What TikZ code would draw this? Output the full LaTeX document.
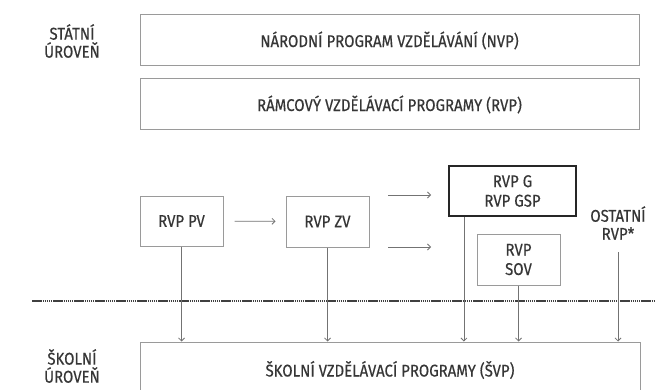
\documentclass[tikz,border=0pt]{standalone}
\usepackage{fontspec}
\setmainfont{Fira Sans}[FakeStretch=0.88,FakeBold=0.4]
\usetikzlibrary{arrows.meta}
\definecolor{txtgray}{HTML}{363636}
\definecolor{boxgray}{HTML}{9A9A9A}
\tikzstyle{lvl}=[align=center,text=txtgray,font=\fontsize{17}{18}\selectfont]
\tikzstyle{prog}=[rectangle,draw=boxgray,line width=1pt,text=txtgray,align=center,font=\fontsize{17}{19.5}\selectfont]
\tikzstyle{down}=[-{Straight Barb[length=3pt,width=6pt]},draw=gray!90!black,line width=0.8pt]
\tikzstyle{dotline}=[draw=black!75,line width=1.3pt,dash pattern=on 1.5pt off 0.6pt]

\begin{document}
\begin{tikzpicture}[x=1pt,y=-1pt]
\clip (0,0) rectangle (655,390);
\fill[white] (0,0) rectangle (655,390);
% statni uroven
\node[lvl] (statni) at (72,41) {STÁTNÍ\\ÚROVEŇ};
\node[prog,minimum width=499pt,minimum height=51pt] (nvp) at (389.5,40.5) {NÁRODNÍ PROGRAM VZDĚLÁVÁNÍ (NVP)};
\node[prog,minimum width=499pt,minimum height=51pt] (rvp) at (389.5,104.5) {RÁMCOVÝ VZDĚLÁVACÍ PROGRAMY (RVP)};
% jednotlive RVP
\node[prog,minimum width=83pt,minimum height=50pt] (pv) at (181.5,221) {RVP PV};
\node[prog,minimum width=83pt,minimum height=51pt] (zv) at (327.5,221.5) {RVP ZV};
\node[prog,draw=black!85,line width=2.2pt,minimum width=127pt,minimum height=50pt] (g) at (512.5,191) {RVP G\\RVP GSP};
\node[prog,minimum width=83pt,minimum height=51pt] (sov) at (518.5,259.5) {RVP\\SOV};
\node[lvl] (ostatni) at (618,223) {OSTATNÍ\\RVP*};
\coordinate (zg1) at (388,195);\coordinate (zg2) at (431,195);
\coordinate (zs1) at (388,247);\coordinate (zs2) at (431,247);
\draw[down,shorten <=11pt,shorten >=10pt] (pv) -- (zv);
\draw[down] (zg1) -- (zg2);\draw[down] (zs1) -- (zs2);
% hranice urovni
\draw[dotline] (32,301) -- (655,301);
% skolni uroven
\node[lvl] (skolni) at (72,366) {ŠKOLNÍ\\ÚROVEŇ};
\node[prog,minimum width=500pt,minimum height=56pt] (svp) at (390,370) {ŠKOLNÍ VZDĚLÁVACÍ PROGRAMY (ŠVP)};
\draw[down] (pv.south) -- (pv.south |- svp.north);
\draw[down] (zv.south) -- (zv.south |- svp.north);
\draw[down] ([xshift=16pt]g.south west) -- ([xshift=16pt]g.south west |- svp.north);
\draw[down] (sov.south) -- (sov.south |- svp.north);
\draw[down,shorten <=9pt] (ostatni.south) -- (ostatni.south |- svp.north);
\end{tikzpicture}
\end{document}
